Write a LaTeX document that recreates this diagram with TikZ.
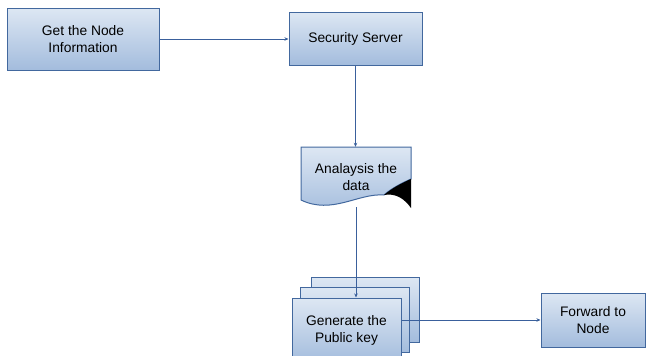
\documentclass[tikz,border=0pt]{standalone}
\usepackage{fontspec}
\setmainfont{Liberation Sans}
\usetikzlibrary{arrows.meta}
\definecolor{boxtop}{RGB}{221,231,243}
\definecolor{boxbot}{RGB}{163,188,221}
\definecolor{boxline}{RGB}{66,104,158}
\definecolor{conn}{RGB}{58,96,156}
\tikzset{
  box/.style={draw=boxline, line width=1pt, top color=boxtop, bottom color=boxbot,
    align=center, inner sep=0pt, font=\fontsize{13.8}{16.5}\selectfont},
  plain/.style={draw=boxline, line width=1pt, top color=boxtop, bottom color=boxbot},
  conline/.style={draw=conn, line width=0.9pt, -{Stealth[length=4pt,width=3.5pt]}},
}
\begin{document}
\begin{tikzpicture}[x=1pt,y=1pt]
\useasboundingbox (0,0) rectangle (646,-356);
\clip (0,0) rectangle (646,-356);
% boxes
\node[box, minimum width=152pt, minimum height=62pt] (info) at (83,-39) {Get the Node\\Information};
\node[box, minimum width=133pt, minimum height=53pt] (server) at (355.5,-38.5) {Security Server};
% document shape
\path[plain] (301,-147) -- (411,-147) -- (411,-179)
  .. controls (402,-183) and (392,-188) .. (384,-195)
  .. controls (358,-193) and (332,-215) .. (301,-200) -- cycle;
\fill[black] (384,-195) .. controls (392,-188) and (402,-183) .. (411,-179)
  -- (411,-208) .. controls (404,-198) and (395,-193) .. cycle;
\node[align=center, inner sep=0pt, font=\fontsize{13.8}{16.5}\selectfont,
  minimum width=110pt, minimum height=60pt] (doc) at (356,-177) {Analaysis the\\data};
% stacked boxes
\path[plain] (311,-277) rectangle (419,-342);
\path[plain] (300,-287) rectangle (409,-352);
\node[box, minimum width=109pt, minimum height=65pt] (gen) at (346.5,-330.5) {Generate the\\Public key};
\node[box, minimum width=104pt, minimum height=54pt] (fwd) at (593,-320) {Forward to\\Node};
% connectors
\draw[conline] (info.east) -- (info.east -| server.west);
\draw[conline] (server.south) -- (server.south |- doc.north);
\draw[conline] (doc.south) -- (doc.south |- gen.north);
\draw[conline] (gen.east |- fwd.west) -- (fwd.west);
\end{tikzpicture}
\end{document}
